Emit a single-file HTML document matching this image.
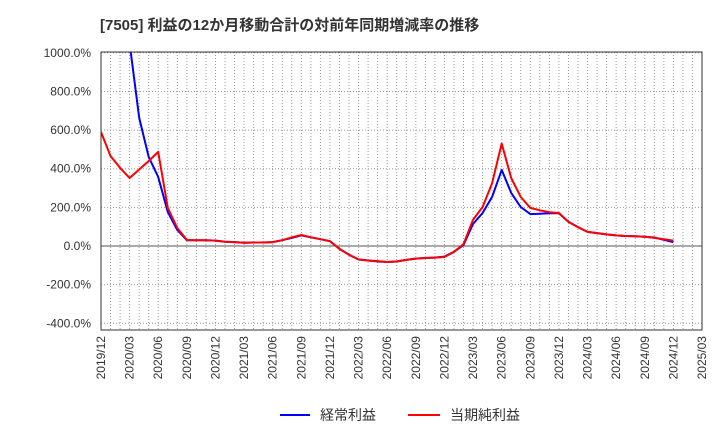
<!DOCTYPE html>
<html><head><meta charset="utf-8"><style>
body{margin:0;background:#fff;font-family:"Liberation Sans","Noto Sans CJK JP",sans-serif;}
</style></head><body>
<svg width="720" height="440" id="c" xmlns="http://www.w3.org/2000/svg" font-family="Liberation Sans, Noto Sans CJK JP, sans-serif">
<text x="100" y="30" font-size="15" font-weight="bold" fill="#333">[7505]  利益の12か月移動合計の対前年同期増減率の推移</text>
<defs><clipPath id="pc"><rect x="101" y="52" width="601" height="278"/></clipPath></defs>
<g id="grid"></g><g id="axes"></g><g id="series" clip-path="url(#pc)"></g>
<rect x="101" y="52" width="601" height="278" fill="none" stroke="#333"/>
<g>
<line x1="280" y1="415" x2="310" y2="415" stroke="#0000ff" stroke-width="2"/>
<text x="320" y="420" font-size="14" fill="#333">経常利益</text>
<line x1="408" y1="415" x2="440" y2="415" stroke="#ff0000" stroke-width="2"/>
<text x="450" y="420" font-size="14" fill="#333">当期純利益</text>
</g>
</svg>
<script>
const yTicks=[1000,800,600,400,200,0,-200,-400];
const xLabels=["2019/12","2020/03","2020/06","2020/09","2020/12","2021/03","2021/06","2021/09","2021/12","2022/03","2022/06","2022/09","2022/12","2023/03","2023/06","2023/09","2023/12","2024/03","2024/06","2024/09","2024/12","2025/03"];
const ordinaryProfit=[null,null,null,1050,663,461,357,176,83,30,30,30,28,22,20,17,18,18,20,30,42,55,45,35,25,-15,-45,-70,-75,-80,-83,-80,-72,-65,-62,-60,-55,-30,5,114,171,254,394,275,202,165,167,169,170,125,98,73,67,60,55,52,50,48,44,32,20];
const netProfit=[590,466,404,352,396,440,487,197,93,31,30,30,28,22,20,17,18,18,20,30,45,57,45,35,25,-15,-45,-70,-75,-78,-83,-80,-72,-65,-62,-60,-57,-30,10,135,202,325,530,352,254,197,185,175,171,125,98,73,67,60,55,52,50,48,42,35,28];
const svg=document.getElementById('c'),NS="http://www.w3.org/2000/svg";
const X=i=>101+i*601/63, Y=v=>246-v*0.1932;
function mk(t,a,p){const e=document.createElementNS(NS,t);for(const k in a)e.setAttribute(k,a[k]);p.appendChild(e);return e;}
const g=document.getElementById('grid'),ax=document.getElementById('axes'),s=document.getElementById('series');
for(let i=1;i<63;i++){const l=mk('line',{x1:X(i),x2:X(i),y1:52,y2:330,stroke:'#999','stroke-dasharray':'1,2'},g);

}
yTicks.forEach(v=>{const l=mk('line',{x1:101,x2:702,y1:Y(v),y2:Y(v),stroke:v===0?'#555':'#999','stroke-dasharray':v===0?'':'1,2'},g);


const t=mk('text',{x:91,y:Y(v)+4,'font-size':12,fill:'#333','text-anchor':'end'},ax);t.textContent=v.toFixed(1)+'%';

});
xLabels.forEach((lab,k)=>{const x=X(k*3)+4;const t=mk('text',{x:0,y:0,'font-size':12,fill:'#333','text-anchor':'end',transform:`translate(${x},336) rotate(-90)`},ax);t.textContent=lab;

});
function line(d,c,name){let p='',m=false;d.forEach((v,i)=>{if(v===null){m=false;return;}p+=(m?'L':'M')+X(i).toFixed(1)+','+Y(v).toFixed(1);m=true;});
const e=mk('path',{d:p,fill:'none',stroke:c,'stroke-width':2,'stroke-linejoin':'round'},s);

}
line(ordinaryProfit,'#0000ff','ordinary-profit-line');
line(netProfit,'#ff0000','net-profit-line');
</script>
</body></html>
